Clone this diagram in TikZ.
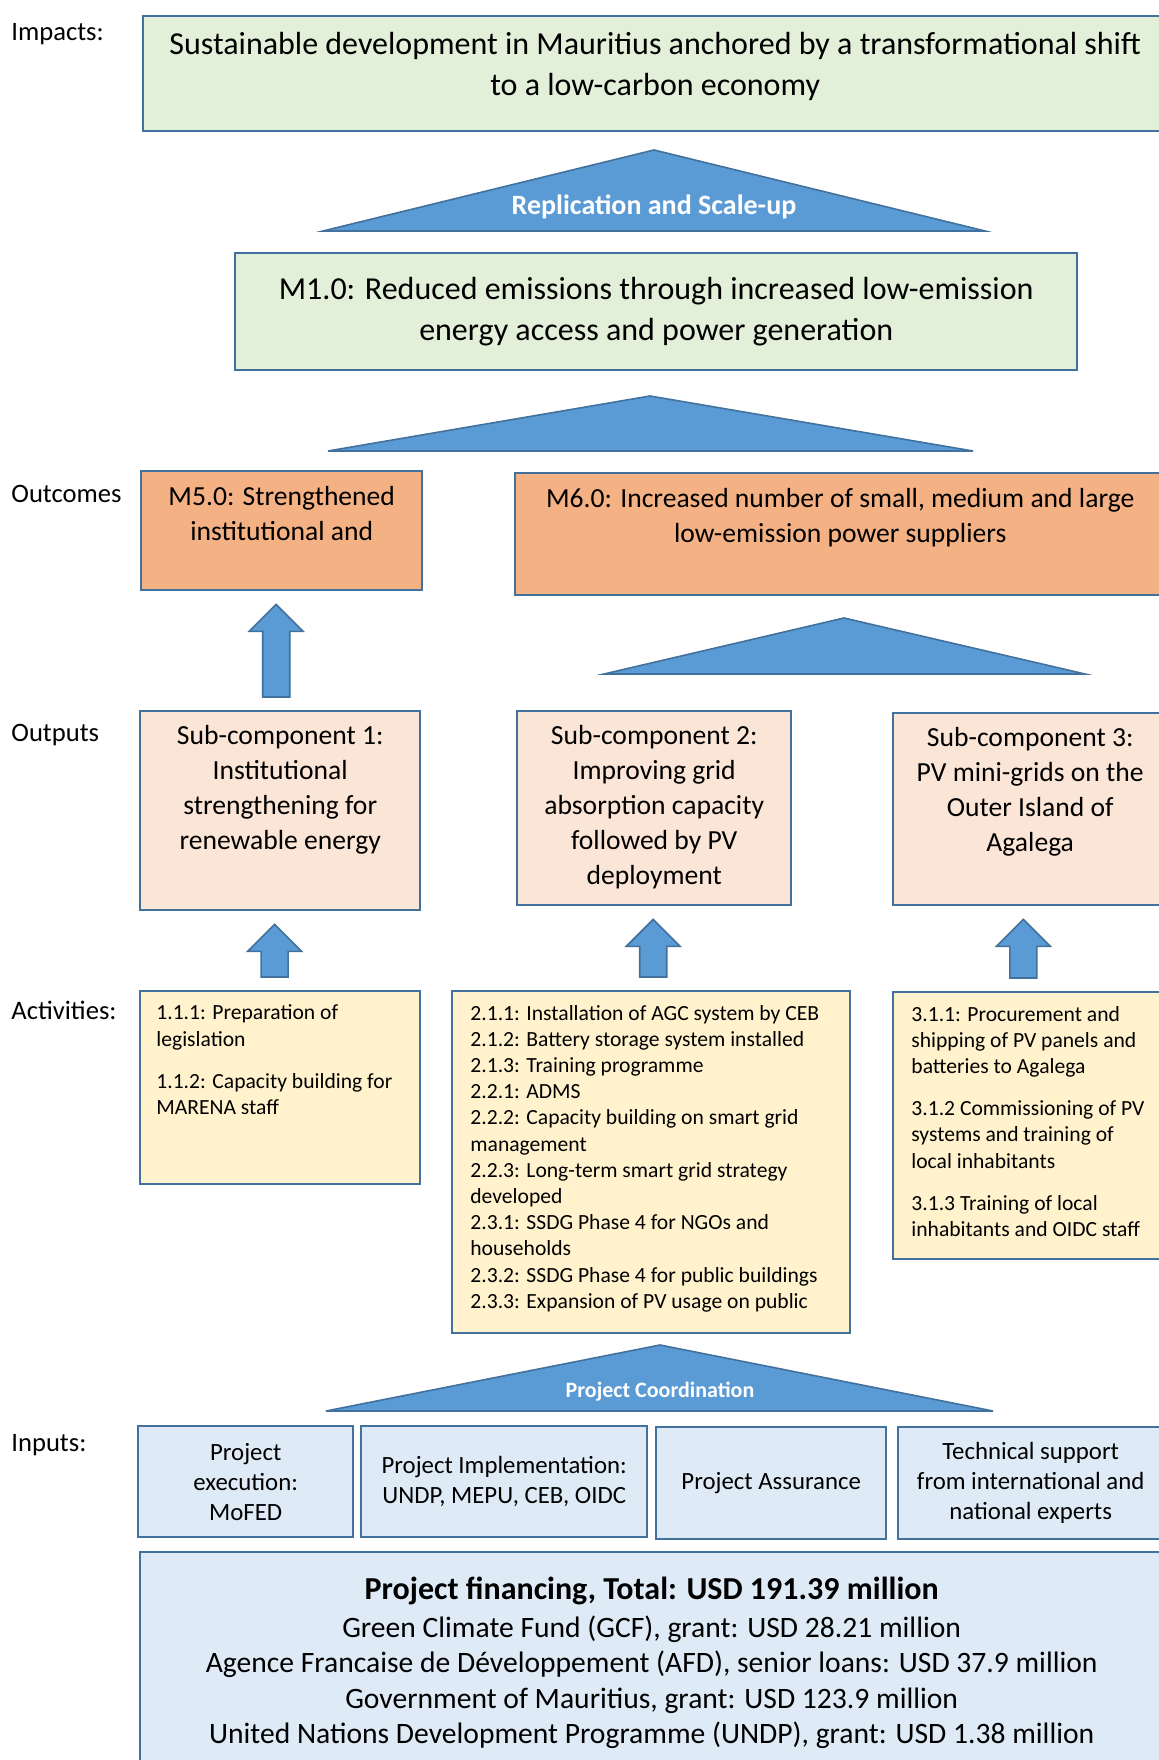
\documentclass[tikz,border=0pt]{standalone}
\usepackage{fontspec}
\setmainfont{Carlito}
\usetikzlibrary{positioning,calc}
\definecolor{boxline}{RGB}{65,113,156}
\definecolor{roofblue}{RGB}{91,155,213}
\definecolor{impactfill}{RGB}{226,239,217}
\definecolor{outcomefill}{RGB}{244,177,131}
\definecolor{outputfill}{RGB}{251,229,214}
\definecolor{activityfill}{RGB}{255,242,204}
\definecolor{inputfill}{RGB}{222,235,247}
\tikzset{
  box/.style={
    rectangle,
    draw=boxline, line width=1.2pt,
    inner sep=0pt,
    anchor=north west},
  impactbox/.style={box, fill=impactfill},
  outcomebox/.style={box, fill=outcomefill},
  outputbox/.style={box, fill=outputfill},
  activitybox/.style={box, fill=activityfill},
  inputbox/.style={box, fill=inputfill, align=center,
    font=\fontsize{12.4}{15}\selectfont},
  boxtext/.style={inner sep=0pt, align=center},
  bigfont/.style={font=\fontsize{16}{20.5}\selectfont},
  midfont/.style={font=\fontsize{13.8}{17.5}\selectfont},
  smallfont/.style={font=\fontsize{10.8}{13.1}\selectfont},
  actext/.style={inner sep=0pt, align=left, smallfont},
  roof/.style={draw=boxline, line width=0.8pt, fill=roofblue},
  blockarrow/.style={draw=boxline, line width=0.8pt, fill=roofblue},
  rooflabel/.style={text=white, inner sep=0pt},
  level/.style={anchor=west, inner sep=0pt, font=\fontsize{13.3}{15}\selectfont},
}

\begin{document}
\begin{tikzpicture}[x=0.5pt, y=-0.5pt]
\useasboundingbox (0,0) rectangle (1159,1760);
\fill[white] (0,0) rectangle (1159,1760);
\clip (0,0) rectangle (1159,1760);

% level labels
\node[level] (lblimpacts) at (11,34) {Impacts:};
\node[level] (lbloutcomes) at (11,494) {Outcomes};
\node[level] (lbloutputs) at (11,735) {Outputs};
\node[level] (lblactivities) at (11,1010) {Activities:};
\node[level] (lblinputs) at (11,1445) {Inputs:};

% impact and main outcome
\node[impactbox, minimum width=512pt, minimum height=57.5pt] (impact) at (142,15) {};
\node[boxtext, bigfont, below=8.5pt of impact.north] (impacttext)
  {Sustainable development in Mauritius anchored by a transformational shift\\to a low-carbon economy};
\draw[roof] (323,231) -- (654,150) -- (985,231) -- cycle;
\node[rooflabel, font=\bfseries\fontsize{14}{16}\selectfont] (scaleup) at (654,207) {Replication and Scale-up};
\node[impactbox, align=center, bigfont, minimum width=421pt, minimum height=58.5pt] (m1) at (234,252)
  {M1.0: Reduced emissions through increased low-emission\\energy access and power generation};
\draw[roof] (328,451) -- (650,396) -- (973,451) -- cycle;

% outcomes
\node[outcomebox, minimum width=140.5pt, minimum height=59.5pt] (m5) at (140,470) {};
\node[boxtext, midfont, below=7.8pt of m5.north] (m5text) {M5.0: Strengthened\\institutional and};
\node[outcomebox, minimum width=325pt, minimum height=61pt] (m6) at (514,472) {};
\node[boxtext, midfont, below=8.2pt of m6.north] (m6text)
  {M6.0: Increased number of small, medium and large\\low-emission power suppliers};
\draw[roof] (604,674) -- (844,618) -- (1085,674) -- cycle;

% outputs
\node[outputbox, minimum width=140pt, minimum height=99.5pt] (sub1) at (139,710) {};
\node[boxtext, midfont, below=7.5pt of sub1.north] (sub1text)
  {Sub-component 1:\\Institutional\\strengthening for\\renewable energy};
\node[outputbox, minimum width=137pt, minimum height=97pt] (sub2) at (516,710) {};
\node[boxtext, midfont, below=7.5pt of sub2.north] (sub2text)
  {Sub-component 2:\\Improving grid\\absorption capacity\\followed by PV\\deployment};
\node[outputbox, minimum width=137pt, minimum height=96pt] (sub3) at (892,712) {};
\node[boxtext, midfont, below=7.5pt of sub3.north] (sub3text)
  {Sub-component 3:\\PV mini-grids on the\\Outer Island of\\Agalega};

% activities
\node[activitybox, minimum width=140pt, minimum height=96.5pt] (act1) at (139,990) {};
\node[actext, below right=7.3pt and 8.5pt of act1.north west] (act1text)
  {1.1.1: Preparation of\\legislation\\[8pt]1.1.2: Capacity building for\\MARENA staff};
\node[activitybox, minimum width=199pt, minimum height=171pt] (act2) at (451,990) {};
\node[actext, below right=7.3pt and 9.5pt of act2.north west] (act2text)
  {2.1.1: Installation of AGC system by CEB\\
   2.1.2: Battery storage system installed\\
   2.1.3: Training programme\\
   2.2.1: ADMS\\
   2.2.2: Capacity building on smart grid\\
   management\\
   2.2.3: Long-term smart grid strategy\\
   developed\\
   2.3.1: SSDG Phase 4 for NGOs and\\
   households\\
   2.3.2: SSDG Phase 4 for public buildings\\
   2.3.3: Expansion of PV usage on public};
\node[activitybox, minimum width=145pt, minimum height=133.5pt] (act3) at (892,991) {};
\node[actext, below right=7.3pt and 9.5pt of act3.north west] (act3text)
  {3.1.1: Procurement and\\shipping of PV panels and\\batteries to Agalega\\[8pt]
   3.1.2 Commissioning of PV\\systems and training of\\local inhabitants\\[8pt]
   3.1.3 Training of local\\inhabitants and OIDC staff};

% block arrows
\foreach \src/\dst/\dx in {sub1/m5/-2.75pt, act1/sub1/-2.8pt, act2/sub2/-0.5pt, act3/sub3/-3.4pt}
  \draw[blockarrow] let \p1=(\src.north), \p2=(\dst.south), \n1={\x2+\dx} in
    (\n1-6.75pt,\y1+6.5pt) -- (\n1-6.75pt,\y2-20pt) -- (\n1-13.5pt,\y2-20pt)
    -- (\n1,\y2-6.5pt) -- (\n1+13.5pt,\y2-20pt) -- (\n1+6.75pt,\y2-20pt)
    -- (\n1+6.75pt,\y1+6.5pt) -- cycle;

% inputs
\draw[roof] (326,1411) -- (660,1345) -- (993,1411) -- cycle;
\node[rooflabel, font=\bfseries\fontsize{11}{13}\selectfont] (coordination) at (660,1392) {Project Coordination};
\node[inputbox, minimum width=107.5pt, minimum height=55.5pt] (execution) at (137,1425)
  {Project\\execution:\\MoFED};
\node[inputbox, minimum width=143pt, minimum height=55.5pt] (implementation) at (360,1425)
  {Project Implementation:\\UNDP, MEPU, CEB, OIDC};
\node[inputbox, minimum width=115pt, minimum height=56pt] (assurance) at (655,1426)
  {Project Assurance};
\node[inputbox, minimum width=132.5pt, minimum height=56pt] (support) at (897,1426)
  {Technical support\\from international and\\national experts};
\node[box, fill=inputfill, minimum width=511.5pt, minimum height=115pt] (financing) at (139,1551) {};
\node[boxtext, font=\fontsize{14.8}{17.7}\selectfont, below=13pt of financing.north] (financingtext)
  {{\fontsize{16}{18}\selectfont\bfseries Project financing, Total: USD 191.39 million}\\[1pt]
   Green Climate Fund (GCF), grant: USD 28.21 million\\
   Agence Francaise de Développement (AFD), senior loans: USD 37.9 million\\
   Government of Mauritius, grant: USD 123.9 million\\
   United Nations Development Programme (UNDP), grant: USD 1.38 million};
\end{tikzpicture}
\end{document}
